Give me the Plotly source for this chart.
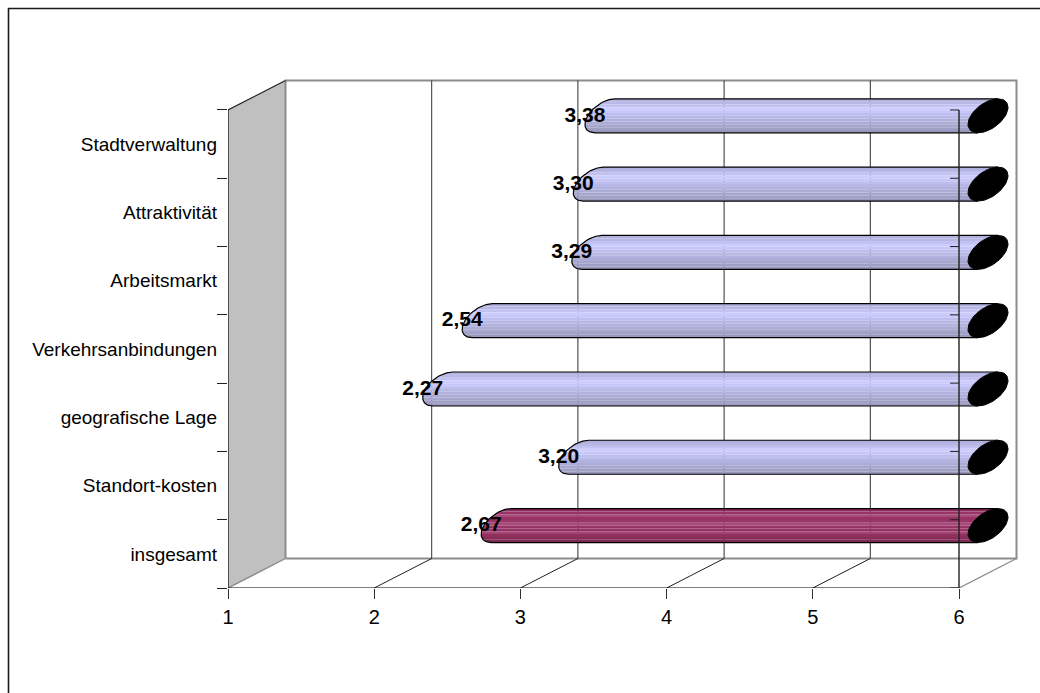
import numpy as np
import plotly.graph_objects as go

# Ratings per category, bottom row first
categories = ["insgesamt", "Standort-kosten", "geografische Lage", "Verkehrsanbindungen",
              "Arbeitsmarkt", "Attraktivität", "Stadtverwaltung"]
values = [2.67, 3.20, 2.27, 2.54, 3.29, 3.30, 3.38]
x_ticks = [1, 2, 3, 4, 5, 6]

# Horizontal shading of the cylinders, top to bottom
lilac_bands = ["#b0b0dc", "#b8b8e6", "#c2c2f2", "#ccccff", "#c6c6f8", "#bebeee",
               "#b8b8e6", "#b2b2de", "#acacd6", "#a6a6ce", "#a0a0c6", "#9898bc"]
plum_bands = ["#8c2e5d", "#993366", "#a54a79", "#993366", "#9a3568", "#a54a79",
              "#993366", "#963264", "#a14573", "#8f305f", "#862c59", "#7d2953"]

# Plot frame and the scale of the axes; the frame leaves room above and to the right of the 3D box
WIDTH, HEIGHT = 1040, 693
LEFT, TOP, PLOT_W, PLOT_H = 228, 70, 800, 518
PX_X = 146.2
PX_Y = 68.29
DEPTH_X = 57.5 / PX_X
DEPTH_Y = 29.5 / PX_Y
X_MAX = 1 + PLOT_W / PX_X
Y_MAX = PLOT_H / PX_Y
X_END = x_ticks[-1]
ROWS = len(categories)

# Cylinder geometry, expressed in screen pixels relative to its axis
CAP_RX, CAP_RY, CAP_TILT = 20.0, 17.0, np.radians(30)
SHIFT_X, SHIFT_Y = 29.0, 28.3


def cap_outline(x_c, y_c, n=60):
    t = np.linspace(0, 2 * np.pi, n)
    return (x_c + CAP_RX * np.cos(t) / PX_X,
            y_c + CAP_RY * np.sin(t + CAP_TILT) / PX_Y)


def cap_left_edge(x_c, off_px):
    """x of the left branch of the end cap, off_px above the cylinder axis."""
    s = np.clip(off_px / CAP_RY, -1, 1)
    t = np.pi - np.arcsin(s) - CAP_TILT
    return x_c + CAP_RX * np.cos(t) / PX_X


def line_trace(xs, ys, color, width):
    return go.Scatter(x=xs, y=ys, mode="lines", line=dict(color=color, width=width),
                      hoverinfo="skip", showlegend=False, cliponaxis=False)


fig = go.Figure()

# Side wall
fig.add_trace(go.Scatter(
    x=[1, 1, 1 + DEPTH_X, 1 + DEPTH_X, 1],
    y=[0, ROWS, ROWS + DEPTH_Y, DEPTH_Y, 0],
    mode="lines", fill="toself", fillcolor="#c0c0c0", line=dict(width=0),
    hoverinfo="skip", showlegend=False))

# Back wall outline, gridlines and floor
grey = "#8c8c8c"
fig.add_trace(line_trace(
    [1 + DEPTH_X, 1 + DEPTH_X, X_END + DEPTH_X, X_END + DEPTH_X, 1 + DEPTH_X],
    [DEPTH_Y, ROWS + DEPTH_Y, ROWS + DEPTH_Y, DEPTH_Y, DEPTH_Y], grey, 2))
for tick in x_ticks[1:-1]:
    fig.add_trace(line_trace([tick + DEPTH_X] * 2, [DEPTH_Y, ROWS + DEPTH_Y], "#303030", 1))
for tick in x_ticks:
    edge = tick in (x_ticks[0], x_ticks[-1])
    fig.add_trace(line_trace([tick, tick + DEPTH_X], [0, DEPTH_Y],
                             grey if edge else "#202020", 1.4 if edge else 1))
fig.add_trace(line_trace([1, 1 + DEPTH_X], [ROWS, ROWS + DEPTH_Y], "#202020", 1.2))

# Cylinders: stacked horizontal bands, outline, black end cap
for row, value in enumerate(values):
    bands = plum_bands if row == 0 else lilac_bands
    y_c = row + 0.5 + SHIFT_Y / PX_Y
    x_left = value + SHIFT_X / PX_X
    x_right = X_END + SHIFT_X / PX_X
    edges = np.linspace(CAP_RY, -CAP_RY, len(bands) + 1)
    for i, color in enumerate(bands):
        off = np.linspace(edges[i], edges[i + 1], 5)
        xl = cap_left_edge(x_left, off)
        xr = cap_left_edge(x_right, off)
        fig.add_trace(go.Scatter(
            x=np.r_[xl, xr[::-1], xl[0]],
            y=np.r_[y_c + off / PX_Y, y_c + off[::-1] / PX_Y, y_c + off[0] / PX_Y],
            mode="lines", fill="toself", fillcolor=color, line=dict(width=0),
            hoverinfo="skip", showlegend=False))
    off = np.linspace(CAP_RY, -CAP_RY, 40)
    fig.add_trace(line_trace(
        np.r_[cap_left_edge(x_right, CAP_RY), cap_left_edge(x_left, off), cap_left_edge(x_right, -CAP_RY)],
        np.r_[y_c + CAP_RY / PX_Y, y_c + off / PX_Y, y_c - CAP_RY / PX_Y],
        "#000000", 1.2))
    cx, cy = cap_outline(x_right, y_c)
    fig.add_trace(go.Scatter(x=cx, y=cy, mode="lines", fill="toself", fillcolor="#000000",
                             line=dict(color="#000000", width=1),
                             hoverinfo="skip", showlegend=False, cliponaxis=False))

# Front axis lines drawn across the cylinders
fig.add_trace(line_trace([1, 1], [0, ROWS], "#000000", 1.2))
fig.add_trace(line_trace([1, X_END], [0, 0], "#000000", 1.2))
fig.add_trace(line_trace([X_END, X_END], [0, ROWS], "#202020", 1.4))
for row in range(ROWS + 1):
    fig.add_trace(line_trace([X_END - 9 / PX_X, X_END], [row, row], "#202020", 1))

# Value labels, German decimal comma
fig.add_trace(go.Scatter(
    x=[v + 9 / PX_X for v in values],
    y=[r + 0.5 + (SHIFT_Y - 0.5) / PX_Y for r in range(ROWS)],
    mode="text",
    text=[f"{v:.2f}".replace(".", ",") for v in values],
    textposition="middle center",
    textfont=dict(family="Liberation Sans", size=21, color="#000000", weight="bold"),
    hoverinfo="skip", showlegend=False, cliponaxis=False))

fig.update_layout(
    width=WIDTH, height=HEIGHT, autosize=False,
    margin=dict(l=LEFT, t=TOP, r=WIDTH - LEFT - PLOT_W, b=HEIGHT - TOP - PLOT_H, pad=0),
    paper_bgcolor="#ffffff", plot_bgcolor="#ffffff",
    font=dict(family="Liberation Sans", color="#000000"),
    showlegend=False,
    xaxis=dict(range=[1, X_MAX], tickmode="array", tickvals=x_ticks,
               ticktext=[str(t) for t in x_ticks],
               ticks="outside", ticklen=10, tickwidth=1, tickcolor="#303030",
               tickfont=dict(size=20), showgrid=False, zeroline=False, showline=False,
               ticklabelstandoff=1),
    yaxis=dict(range=[0, Y_MAX], tickmode="array",
               tickvals=[r + 0.5 for r in range(ROWS)], ticktext=categories,
               ticks="", tickfont=dict(size=19), showgrid=False, zeroline=False, showline=False,
               ticklabelstandoff=10,
               minor=dict(tickmode="array", tickvals=list(range(ROWS + 1)),
                          ticks="outside", ticklen=10, tickwidth=1, tickcolor="#202020",
                          showgrid=False)),
    shapes=[dict(type="path", xref="paper", yref="paper", layer="above",
                 path=f"M {(8.5 - LEFT) / PLOT_W} {(TOP + PLOT_H - HEIGHT) / PLOT_H} "
                      f"L {(8.5 - LEFT) / PLOT_W} {(TOP + PLOT_H - 8.5) / PLOT_H} "
                      f"L {(WIDTH - LEFT) / PLOT_W} {(TOP + PLOT_H - 8.5) / PLOT_H}",
                 line=dict(color="#1a1a1a", width=1.6))],
)

fig.write_html("out.html")
